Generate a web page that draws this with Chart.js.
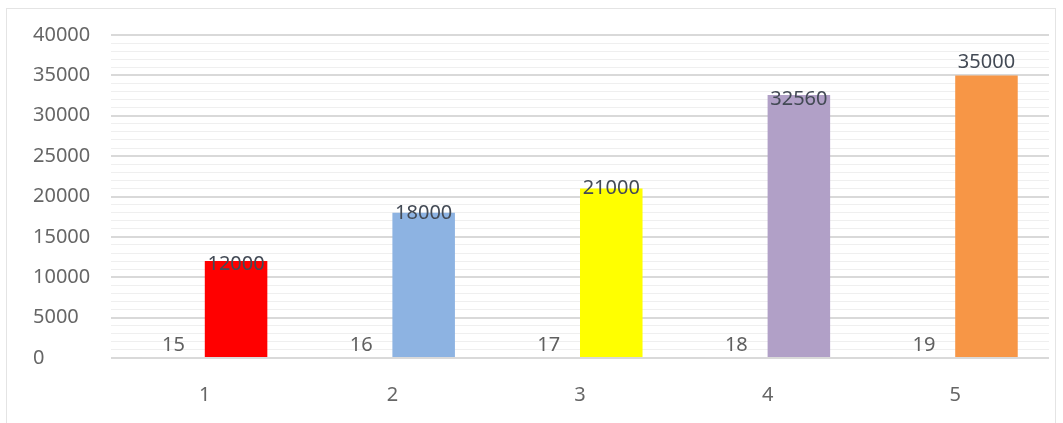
<!DOCTYPE html>
<html>
<head>
<meta charset="utf-8">
<script src="https://cdn.jsdelivr.net/npm/chart.js@4"></script>
<style>
  html, body { margin: 0; padding: 0; background: #fff; }
  #frame {
    position: absolute; left: 6px; top: 8px; width: 1050px; height: 420px;
    border: 1px solid #e4e4e4; border-bottom: none; box-sizing: border-box;
  }
  #wrap { position: absolute; left: 0; top: 0; width: 1063px; height: 423px; }
</style>
</head>
<body>
<div id="frame"></div>
<div id="wrap"><canvas id="chart" width="1063" height="423"></canvas></div>
<script>
const categories = ["1", "2", "3", "4", "5"];
const smallValues = [15, 16, 17, 18, 19];
const mainValues = [12000, 18000, 21000, 32560, 35000];
const mainColors = ["#ff0000", "#8db3e2", "#ffff00", "#b1a0c7", "#f79646"];

const FONT = "'Noto Sans', sans-serif";

// writes the value of every bar near its top
const valueLabels = {
  id: "valueLabels",
  afterDatasetsDraw(chart, args, opts) {
    const ctx = chart.ctx;
    ctx.save();
    ctx.font = "20px " + FONT;
    ctx.textAlign = "center";
    ctx.textBaseline = "middle";
    chart.data.datasets.forEach((ds, di) => {
      const meta = chart.getDatasetMeta(di);
      meta.data.forEach((bar, i) => {
        const v = ds.data[i];
        let y;
        if (di === 0) {
          y = bar.y - 13;
          ctx.fillStyle = "#606060";
        } else {
          y = bar.y + opts.nudge[i];
          ctx.fillStyle = "#434a55";
        }
        ctx.fillText(String(v), bar.x, y);
      });
    });
    ctx.restore();
  }
};

new Chart(document.getElementById("chart"), {
  type: "bar",
  data: {
    labels: categories,
    datasets: [
      // tiny values: the bars are only a hair tall, drawn in the grid colour
      { data: smallValues, backgroundColor: "#dadada" },
      { data: mainValues, backgroundColor: mainColors }
    ]
  },
  options: {
    responsive: false,
    animation: false,
    layout: { padding: { left: 33, right: 14, top: 35, bottom: 0 } },
    datasets: { bar: { categoryPercentage: 2 / 3, barPercentage: 1 } },
    plugins: {
      legend: { display: false },
      tooltip: { enabled: false },
      valueLabels: { nudge: [3, 1, 0, 4, -13] }
    },
    scales: {
      x: {
        grid: { display: false },
        border: { display: false },
        ticks: { color: "#666666", font: { family: FONT, size: 20 }, padding: 17 },
        afterFit(scale) { scale.height = 65; }
      },
      y: {
        min: 0,
        max: 40000,
        border: { display: false },
        grid: {
          drawTicks: false,
          color: (c) => (c.tick && c.tick.value % 5000 === 0 ? "#d9d9d9" : "#efefef"),
          lineWidth: (c) => (c.tick && c.tick.value % 5000 === 0 ? 2 : 1)
        },
        ticks: {
          stepSize: 1000,
          autoSkip: false,
          crossAlign: "far",
          color: "#666666",
          font: { family: FONT, size: 20 },
          callback: (v) => (v % 5000 === 0 ? String(v) : "")
        },
        afterFit(scale) { scale.width = 78; }
      }
    }
  },
  plugins: [valueLabels]
});
</script>
</body>
</html>
